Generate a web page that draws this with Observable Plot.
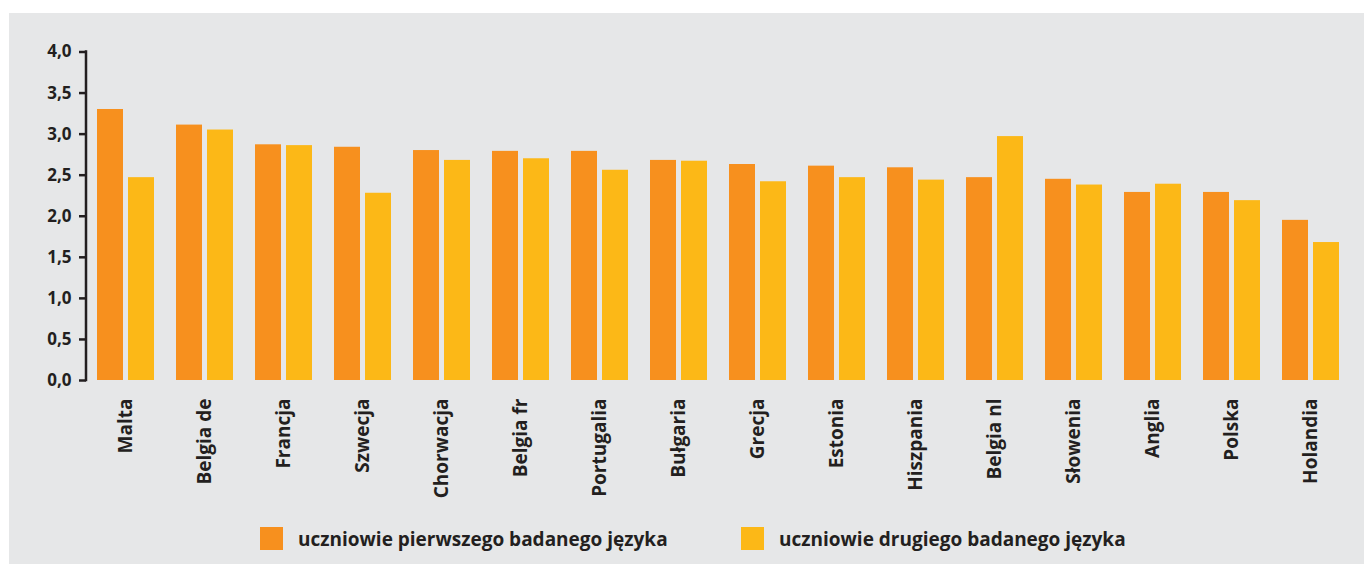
<!DOCTYPE html>
<html>
<head>
<meta charset="utf-8">
<script src="https://cdn.jsdelivr.net/npm/d3@7"></script>
<script src="https://cdn.jsdelivr.net/npm/@observablehq/plot@0.6"></script>
<style>
  html, body { margin: 0; padding: 0; background: #ffffff; }
  #bg { position: absolute; left: 9px; top: 13px; width: 1355px; height: 551px; background: #e6e7e8; }
  #chart { position: absolute; left: 0; top: 0; }
  .legend { position: absolute; top: 527px; height: 23px; display: flex; align-items: center;
            font-family: "Open Sans", sans-serif; font-weight: 700; font-size: 19px; color: #231f20; white-space: nowrap; }
  .legend .sw { width: 23px; height: 23px; margin-right: 15px; flex: none; }
</style>
</head>
<body>
<div id="bg"></div>
<div id="chart"></div>
<div id="legend"></div>
<script>
const countries = ["Malta","Belgia de","Francja","Szwecja","Chorwacja","Belgia fr","Portugalia","Bułgaria","Grecja","Estonia","Hiszpania","Belgia nl","Słowenia","Anglia","Polska","Holandia"];
const firstLang  = [3.30,3.11,2.87,2.84,2.80,2.79,2.79,2.68,2.63,2.61,2.59,2.47,2.45,2.29,2.29,1.95];
const secondLang = [2.47,3.05,2.86,2.28,2.68,2.70,2.56,2.67,2.42,2.47,2.44,2.97,2.38,2.39,2.19,1.68];
const seriesNames = ["uczniowie pierwszego badanego języka","uczniowie drugiego badanego języka"];
const seriesColors = ["#f7901e","#fcb817"];
const yTicks = [0,0.5,1,1.5,2,2.5,3,3.5,4];
const legendLeft = [260, 741];

const data = [];
countries.forEach((c, i) => {
  data.push({country: c, series: seriesNames[0], value: firstLang[i]});
  data.push({country: c, series: seriesNames[1], value: secondLang[i]});
});

const chart = Plot.plot({
  width: 1364,
  height: 510,
  marginTop: 51.5,
  marginBottom: 130,
  marginLeft: 86,
  marginRight: 14,
  style: {background: "transparent", fontFamily: "'Open Sans', sans-serif", color: "#231f20"},
  fx: {domain: countries, paddingInner: 0, paddingOuter: 0, label: null, axis: null},
  x: {domain: seriesNames, paddingInner: 5/31, paddingOuter: 11/31, axis: null},
  y: {domain: [0, 4], label: null, axis: null},
  color: {domain: seriesNames, range: seriesColors},
  marks: [
    Plot.barY(data, {fx: "country", x: "series", y: "value", fill: "series"}),
    Plot.axisFx({anchor: "bottom", label: null, tickSize: 0, tickPadding: 18, tickRotate: -90,
                 fontSize: 19, fontWeight: 700, fill: "#231f20"}),
    Plot.axisY({anchor: "left", label: null, ticks: yTicks, tickSize: 7, tickPadding: 8,
                tickFormat: d => d.toFixed(1).replace(".", ","),
                fontSize: 17, fontWeight: 700, stroke: "#231f20", strokeWidth: 2.5, fill: "#231f20"})
  ]
});
document.getElementById("chart").appendChild(chart);

// y-axis domain line computed from the plot's own scales
const ys = chart.scale("y");
const fxs = chart.scale("fx");
d3.select(chart).append("line")
  .attr("x1", fxs.range[0]).attr("x2", fxs.range[0])
  .attr("y1", ys.apply(4) - 1.25).attr("y2", ys.apply(0) + 1.25)
  .attr("stroke", "#231f20").attr("stroke-width", 2.5);

const legend = document.getElementById("legend");
seriesNames.forEach((name, i) => {
  const item = document.createElement("div");
  item.className = "legend";
  item.style.left = legendLeft[i] + "px";
  const sw = document.createElement("span");
  sw.className = "sw";
  sw.style.background = seriesColors[i];
  const t = document.createElement("span");
  t.textContent = name;
  item.appendChild(sw);
  item.appendChild(t);
  legend.appendChild(item);
});
</script>
</body>
</html>
